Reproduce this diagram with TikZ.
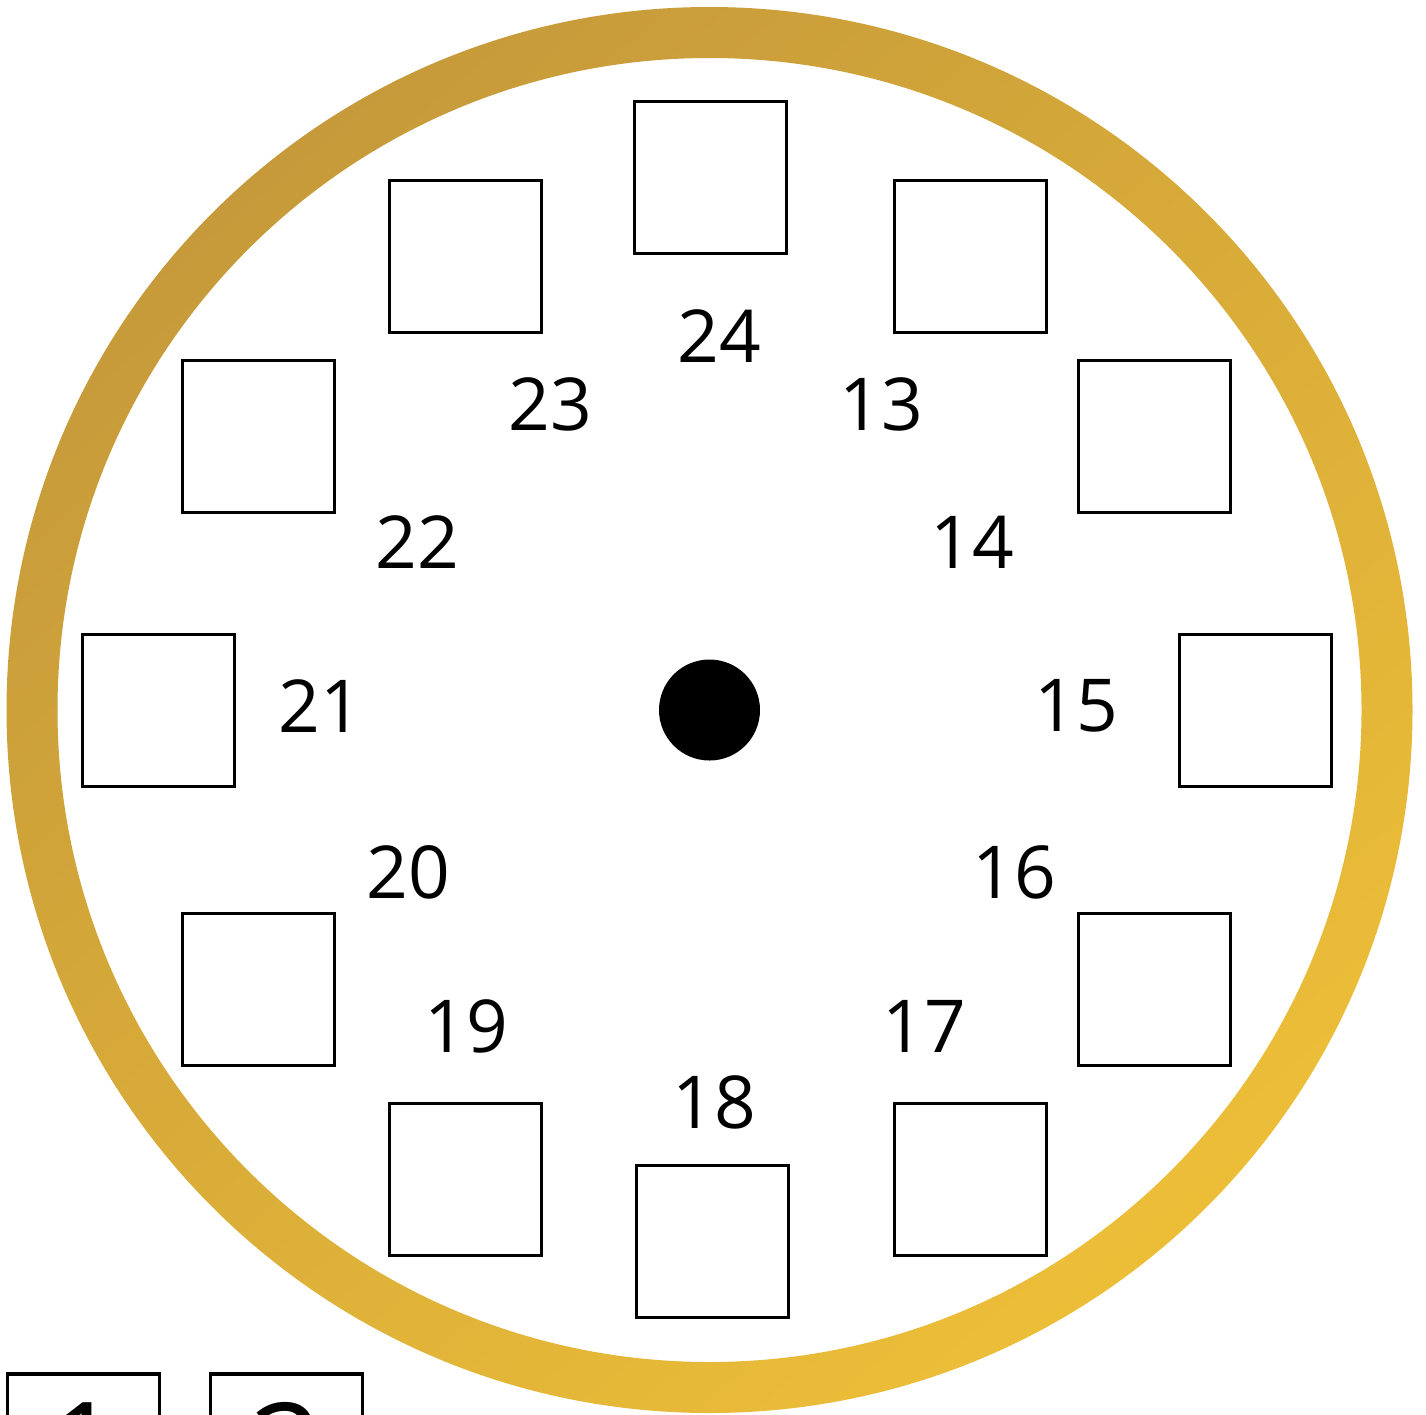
\documentclass[tikz,border=0pt]{standalone}
\usepackage{fontspec}
\setmainfont{Open Sans}
\begin{document}
\begin{tikzpicture}[x=1pt,y=-1pt,
  slot/.style={draw=black,line width=2.6pt,fill=white,minimum size=152pt,inner sep=0pt},
  pslot/.style={slot,line width=3.6pt},
  num/.style={inner sep=0pt,font=\fontsize{73}{80}\selectfont},
  big/.style={inner sep=0pt,font=\fontsize{130}{140}\selectfont}]
\definecolor{golddark}{RGB}{198,154,58}
\definecolor{goldlight}{RGB}{236,190,56}
\useasboundingbox (0,0) rectangle (1426,1414);
\fill[white] (0,0) rectangle (1426,1414);
% gold ring
\shade[even odd rule,top color=golddark,bottom color=goldlight,shading angle=40]
  (709.5,710) circle (703) (709.5,710) circle (652);
% centre dot
\fill[black] (709.5,710) circle (50.5);
\node[coordinate] (c) at (709.5,710) {};
% boxes
\node[slot] (b24) at (710.5,177.5) {};
\node[slot] (b13) at (970.5,256.5) {};
\node[slot] (b23) at (465.5,256.5) {};
\node[slot] (b14) at (1154.5,436.5) {};
\node[slot] (b22) at (258.5,436.5) {};
\node[slot] (b15) at (1255.5,710.5) {};
\node[slot] (b21) at (158.5,710.5) {};
\node[slot] (b16) at (1154.5,989.5) {};
\node[slot] (b20) at (258.5,989.5) {};
\node[slot] (b17) at (970.5,1179.5) {};
\node[slot] (b19) at (465.5,1179.5) {};
\node[slot] (b18) at (712.5,1241.5) {};
% numbers
\node[num] (l24) at (719,336) {24};
\node[num] (l23) at (550,404) {23};
\node[num] (l13) at (881,404) {13};
\node[num] (l22) at (417,542) {22};
\node[num] (l14) at (972,542) {14};
\node[num] (l21) at (320,706) {21};
\node[num] (l15) at (1076,706) {15};
\node[num] (l20) at (408,872) {20};
\node[num] (l16) at (1014,872) {16};
\node[num] (l19) at (466,1026) {19};
\node[num] (l17) at (924,1026) {17};
\node[num] (l18) at (714,1102) {18};
% partial boxes at bottom left (cut by the page edge, as in the reference)
\node[pslot] (p1) at (83.5,1450) {};
\node[pslot] (p2) at (286.5,1450) {};
\node[big] (d1) at (83.5,1449) {1};
\node[big] (d2) at (286.5,1449) {2};
\end{tikzpicture}
\end{document}
